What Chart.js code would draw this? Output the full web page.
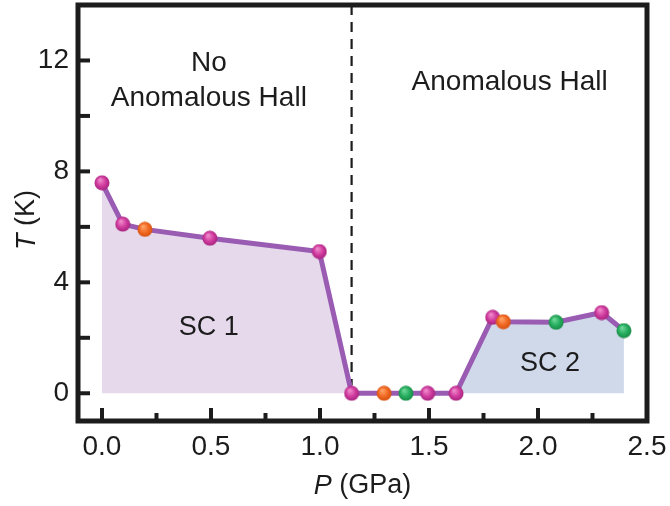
<!DOCTYPE html>
<html lang="en">

<head>
    <meta charset="UTF-8">
    <title>Tc vs pressure</title>
    <script src="https://cdn.jsdelivr.net/npm/chart.js@4.4.1/dist/chart.umd.min.js"></script>
    <style>
        body {
            margin: 0;
            background: white;
        }

        #wrap {
            width: 670px;
            height: 506px;
            position: relative;
        }
    </style>
</head>

<body>
    <div id="wrap">
        <canvas id="myChart"></canvas>
    </div>

    <script>
        // measured transition temperatures
        const pressure = [0, 0.095, 0.197, 0.495, 0.997, 1.145, 1.294, 1.394, 1.494, 1.624, 1.792, 1.841, 2.083, 2.292, 2.394]
        const tc = [7.59, 6.1, 5.91, 5.59, 5.11, 0, 0, 0, 0, 0, 2.74, 2.58, 2.56, 2.91, 2.26]
        const sample = ['a', 'a', 'b', 'a', 'a', 'a', 'b', 'c', 'a', 'a', 'a', 'b', 'c', 'a', 'c']

        // index ranges of the two superconducting domes
        const sc1Range = [0, 5]
        const sc2Range = [9, 14]
        const boundaryP = 1.145

        const xTicks = [0, 0.25, 0.5, 0.75, 1.0, 1.25, 1.5, 1.75, 2.0, 2.25, 2.5]
        const yTicks = [0, 2, 4, 6, 8, 10, 12]

        const FONT = "'Liberation Sans', Arial, Helvetica, sans-serif"
        const INK = '#1c1c1c'

        function makeBall(light, base, dark) {
            const c = document.createElement('canvas')
            c.width = c.height = 16
            const g = c.getContext('2d')
            const grad = g.createRadialGradient(6, 5, 0.5, 8, 8, 8)
            grad.addColorStop(0, light)
            grad.addColorStop(0.55, base)
            grad.addColorStop(1, dark)
            g.fillStyle = grad
            g.beginPath()
            g.arc(8, 8, 7.5, 0, Math.PI * 2)
            g.fill()
            return c
        }

        const balls = {
            a: makeBall('#f08ccc', '#d13c9f', '#a3217b'),
            b: makeBall('#ffa56a', '#f26a24', '#d24e0e'),
            c: makeBall('#70d89a', '#27ae5f', '#168744'),
        }

        const pts = pressure.map((p, i) => ({ x: p, y: tc[i] }))
        const slicePts = r => pts.slice(r[0], r[1] + 1)

        const isMultiple = (v, step) => Math.abs(v / step - Math.round(v / step)) < 1e-6

        const frame = {
            id: 'frame',
            beforeDatasetsDraw(chart) {
                const { ctx, chartArea, scales } = chart
                // dashed phase boundary
                const bx = scales.x.getPixelForValue(boundaryP)
                ctx.save()
                ctx.strokeStyle = INK
                ctx.lineWidth = 2.2
                ctx.setLineDash([10, 7])
                ctx.beginPath()
                ctx.moveTo(bx, chartArea.top)
                ctx.lineTo(bx, scales.y.getPixelForValue(0) - 8)
                ctx.stroke()
                ctx.restore()
            },
            afterDraw(chart) {
                const { ctx, chartArea, scales } = chart
                const { left, right, top, bottom } = chartArea
                ctx.save()
                ctx.strokeStyle = INK
                ctx.lineCap = 'butt'

                // inward ticks
                ctx.lineWidth = 4
                xTicks.forEach(v => {
                    const px = scales.x.getPixelForValue(v)
                    const len = isMultiple(v, 0.5) ? 13 : 8
                    ctx.beginPath()
                    ctx.moveTo(px, bottom)
                    ctx.lineTo(px, bottom - len)
                    ctx.stroke()
                })
                yTicks.forEach(v => {
                    const py = scales.y.getPixelForValue(v)
                    ctx.beginPath()
                    ctx.moveTo(left, py)
                    ctx.lineTo(left + 12, py)
                    ctx.stroke()
                })

                ctx.lineWidth = 5
                ctx.strokeRect(left, top, right - left, bottom - top)

                // region labels
                ctx.fillStyle = INK
                ctx.textAlign = 'center'
                ctx.textBaseline = 'middle'
                const put = (text, x, y, size) => {
                    ctx.font = size + 'px ' + FONT
                    ctx.fillText(text, scales.x.getPixelForValue(x), scales.y.getPixelForValue(y))
                }
                put('No', 0.49, 11.9, 28)
                put('Anomalous Hall', 0.49, 10.65, 28)
                put('Anomalous Hall', 1.87, 11.23, 28)
                put('SC 1', 0.49, 2.37, 27)
                put('SC 2', 2.055, 1.06, 27)

                // axis titles with italic symbols
                const mixed = (sym, rest, cx, cy, rot) => {
                    ctx.save()
                    ctx.translate(cx, cy)
                    ctx.rotate(rot)
                    ctx.textAlign = 'left'
                    ctx.font = 'italic 27px ' + FONT
                    const w1 = ctx.measureText(sym).width
                    ctx.font = '27px ' + FONT
                    const w2 = ctx.measureText(rest).width
                    const x0 = -(w1 + w2) / 2
                    ctx.font = 'italic 27px ' + FONT
                    ctx.fillText(sym, x0, 0)
                    ctx.font = '27px ' + FONT
                    ctx.fillText(rest, x0 + w1, 0)
                    ctx.restore()
                }
                mixed('P', ' (GPa)', (left + right) / 2, 486, 0)
                mixed('T', ' (K)', 27, 220, -Math.PI / 2)
                ctx.restore()
            }
        }

        const chart = new Chart('myChart', {
            type: 'scatter',
            data: {
                datasets: [
                    {
                        data: pts,
                        showLine: true,
                        borderColor: '#9a5bb3',
                        borderWidth: 5,
                        pointStyle: sample.map(s => balls[s]),
                        pointRadius: 7,
                        fill: false,
                    },
                    {
                        data: slicePts(sc1Range),
                        showLine: true,
                        borderWidth: 0,
                        pointRadius: 0,
                        backgroundColor: '#e5d9eb',
                        fill: 'origin',
                    },
                    {
                        data: slicePts(sc2Range),
                        showLine: true,
                        borderWidth: 0,
                        pointRadius: 0,
                        backgroundColor: '#cfd9ea',
                        fill: 'origin',
                    },
                ]
            },
            options: {
                responsive: true,
                maintainAspectRatio: false,
                animation: false,
                layout: {
                    autoPadding: false,
                    padding: { top: 5, right: 23, left: 0, bottom: 0 }
                },
                plugins: {
                    legend: { display: false },
                    tooltip: { enabled: false },
                },
                scales: {
                    x: {
                        type: 'linear',
                        min: -0.11,
                        max: 2.5,
                        afterBuildTicks: s => { s.ticks = xTicks.map(v => ({ value: v })) },
                        afterFit: s => {
                            s.height = 85
                            s.paddingLeft = 0
                            s.paddingRight = 0
                        },
                        grid: { display: false, drawTicks: false },
                        border: { display: false },
                        ticks: {
                            autoSkip: false,
                            maxRotation: 0,
                            padding: 9,
                            color: INK,
                            font: { family: FONT, size: 28 },
                            callback: v => isMultiple(v, 0.5) ? v.toFixed(1) : '',
                        },
                    },
                    y: {
                        min: -1,
                        max: 14,
                        afterBuildTicks: s => { s.ticks = yTicks.map(v => ({ value: v })) },
                        afterFit: s => {
                            s.width = 78
                            s.paddingTop = 0
                            s.paddingBottom = 0
                        },
                        grid: { display: false, drawTicks: false },
                        border: { display: false },
                        ticks: {
                            padding: 9,
                            color: INK,
                            font: { family: FONT, size: 28 },
                            callback: v => isMultiple(v, 4) ? String(v) : '',
                        },
                    },
                }
            },
            plugins: [frame]
        })
    </script>
</body>

</html>
